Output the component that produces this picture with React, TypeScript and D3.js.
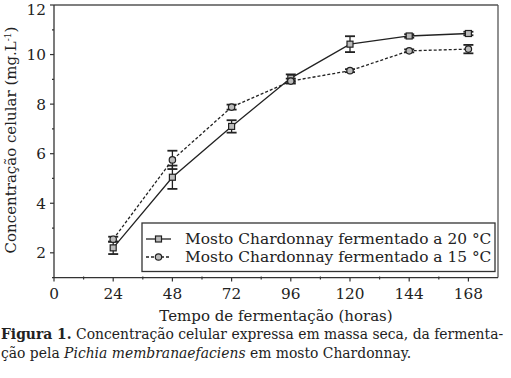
import React from "react";
import * as d3 from "d3";

const hours = [24, 48, 72, 96, 120, 144, 168];
const mean20 = [2.2, 5.05, 7.1, 9.05, 10.42, 10.75, 10.85];
const err20 = [0.25, 0.47, 0.25, 0.15, 0.32, 0.07, 0.07];
const mean15 = [2.55, 5.75, 7.88, 8.93, 9.35, 10.15, 10.22];
const err15 = [0.1, 0.37, 0.1, 0.1, 0.06, 0.06, 0.17];
const xTicks = [0, 24, 48, 72, 96, 120, 144, 168];
const yTicks = [2, 4, 6, 8, 10, 12];
const legendLabels = ["Mosto Chardonnay fermentado a 20 °C", "Mosto Chardonnay fermentado a 15 °C"];

const W = 511, H = 378;
const L = 54, R = 498, T = 5, B = 277.6;
const FONT = "'DejaVu Serif', serif";

export default function App() {
  const x = d3.scaleLinear().domain([0, 180]).range([L, R]);
  const y = d3.scaleLinear().domain([1, 12]).range([B, T]);
  const line = d3.line<number>().x((_, i) => x(hours[i])).y((d) => y(d));
  const xMinor = d3.range(12, 180, 24);
  const yMinor = d3.range(1, 12, 2);
  const series = [
    { mean: mean20, err: err20, dash: undefined, shape: "square" },
    { mean: mean15, err: err15, dash: "3,2", shape: "circle" },
  ];
  const marker = (shape: string, cx: number, cy: number, key: string) =>
    shape === "square" ? (
      <rect key={key} x={cx - 3} y={cy - 3} width={6} height={6} fill="#bbb" stroke="#222" strokeWidth={1.2} />
    ) : (
      <circle key={key} cx={cx} cy={cy} r={3.2} fill="#bbb" stroke="#222" strokeWidth={1.2} />
    );
  return (
    <svg width={W} height={H} style={{ position: "absolute", left: 0, top: 0, background: "#fff" }} fontFamily={FONT}>
      {/* frame */}
      <line x1={L} x2={R} y1={T} y2={T} stroke="#555" strokeWidth={1.3} />
      <line x1={R} x2={R} y1={T} y2={B} stroke="#555" strokeWidth={1.3} />
      <line x1={L} x2={L} y1={T} y2={B} stroke="#333" strokeWidth={1.3} />
      <line x1={L} x2={R} y1={B} y2={B} stroke="#333" strokeWidth={1.3} />
      {/* y ticks */}
      {yTicks.map((t) => (
        <g key={"y" + t}>
          <line x1={L - 4} x2={L} y1={y(t)} y2={y(t)} stroke="#333" strokeWidth={1.2} />
          <text x={L - 8} y={Math.max(y(t) + 5.5, 14.5)} textAnchor="end" fontSize={15.3} fill="#222">{t}</text>
        </g>
      ))}
      {yMinor.map((t) => (
        <line key={"ym" + t} x1={L - 2} x2={L} y1={y(t)} y2={y(t)} stroke="#333" strokeWidth={1.2} />
      ))}
      {/* x ticks */}
      {xTicks.map((t) => (
        <g key={"x" + t}>
          <line x1={x(t)} x2={x(t)} y1={B} y2={B + 4} stroke="#333" strokeWidth={1.2} />
          <text x={x(t)} y={B + 21} textAnchor="middle" fontSize={15.3} fill="#222">{t}</text>
        </g>
      ))}
      {xMinor.map((t) => (
        <line key={"xm" + t} x1={x(t)} x2={x(t)} y1={B - 1} y2={B + 2} stroke="#333" strokeWidth={1.2} />
      ))}
      {/* series */}
      {series.map((s, si) => (
        <g key={"s" + si}>
          <path d={line(s.mean) || ""} fill="none" stroke="#222" strokeWidth={1.3} strokeDasharray={s.dash} />
          {s.mean.map((m, i) => {
            const cx = x(hours[i]);
            const y0 = y(m - s.err[i]);
            const y1 = y(m + s.err[i]);
            return (
              <g key={"e" + i}>
                <line x1={cx} x2={cx} y1={y0} y2={y1} stroke="#222" strokeWidth={1.3} />
                <line x1={cx - 5} x2={cx + 5} y1={y0} y2={y0} stroke="#222" strokeWidth={1.8} />
                <line x1={cx - 5} x2={cx + 5} y1={y1} y2={y1} stroke="#222" strokeWidth={1.8} />
              </g>
            );
          })}
          {s.mean.map((m, i) => marker(s.shape, x(hours[i]), y(m), "m" + i))}
        </g>
      ))}
      {/* legend */}
      <rect x={142} y={223} width={353} height={48.5} fill="#fff" stroke="#333" strokeWidth={1.3} />
      {series.map((s, i) => {
        const ly = 239 + i * 18;
        return (
          <g key={"l" + i}>
            <line x1={146} x2={171} y1={ly} y2={ly} stroke="#222" strokeWidth={1.3} strokeDasharray={s.dash} />
            {marker(s.shape, 158.5, ly, "lm" + i)}
            <text x={185} y={ly} dy="0.33em" fontSize={15.4} fill="#222">{legendLabels[i]}</text>
          </g>
        );
      })}
      {/* axis titles */}
      <text x={276} y={321} textAnchor="middle" fontSize={15} fill="#222">Tempo de fermentação (horas)</text>
      <text transform={`translate(16,140) rotate(-90)`} textAnchor="middle" fontSize={15} fill="#222">
        Concentração celular (mg.L<tspan dy={-5} fontSize={9}>-1</tspan><tspan dy={5}>)</tspan>
      </text>
      {/* caption */}
      <text x={1} y={339} fontSize={13.9} fill="#222">
        <tspan fontWeight="bold">Figura 1.</tspan> Concentração celular expressa em massa seca, da fermenta-
      </text>
      <text x={1} y={358} fontSize={13.9} fill="#222">
        ção pela <tspan fontStyle="italic">Pichia membranaefaciens</tspan> em mosto Chardonnay.
      </text>
    </svg>
  );
}
